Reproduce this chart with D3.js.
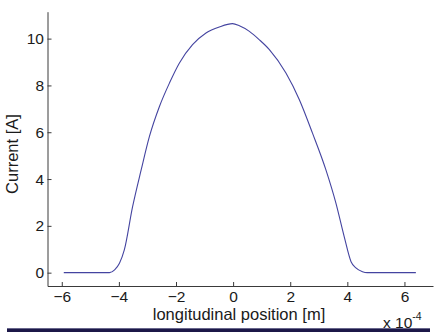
<!DOCTYPE html>
<html>
<head>
<meta charset="utf-8">
<script src="https://cdn.jsdelivr.net/npm/d3@7"></script>
<style>
  html, body { margin: 0; padding: 0; background: #fff; }
  svg { display: block; }
  text { font-family: "Liberation Sans", Arial, sans-serif; fill: #1a1a1a; }
</style>
</head>
<body>
<svg id="chart" width="434" height="332"></svg>
<script>
// Longitudinal position (units of 1e-4 m) and beam current [A]
const position = [-5.93, -4.8, -4.33, -4.15, -3.98, -3.81, -3.52, -3.22, -2.93, -2.58, -2.23, -1.88,
  -1.42, -0.95, -0.48, -0.02, 0.22, 0.57, 0.92, 1.27, 1.85, 2.32, 2.78, 3.25, 3.60, 3.89, 4.13,
  4.30, 4.53, 4.7, 5.5, 6.40];
const current = [0, 0, 0, 0.12, 0.40, 0.97, 2.82, 4.39, 5.82, 7.10, 8.10, 8.96,
  9.74, 10.24, 10.50, 10.64, 10.55, 10.31, 9.95, 9.53, 8.53, 7.39, 5.96, 4.39, 2.97, 1.54, 0.47,
  0.2, 0.04, 0, 0, 0];
const xTicks = [-6, -4, -2, 0, 2, 4, 6];
const yTicks = [0, 2, 4, 6, 8, 10];

const svg = d3.select("#chart");
const plotLeft = 47.5, plotRight = 433, plotTop = 11.7, plotBottom = 286;

const x = d3.scaleLinear().domain([-6.5, 7]).range([plotLeft, plotRight]);
const y = d3.scaleLinear().domain([-0.57, 11.15]).range([plotBottom, plotTop]);

const axisColor = "#3a3a3a";
const tickFont = 15.5, labelFont = 16.5;

// x axis (ticks point into the plot)
const gx = svg.append("g").attr("transform", `translate(0,${plotBottom})`)
  .call(d3.axisBottom(x).tickValues(xTicks).tickSizeInner(-4).tickSizeOuter(0)
    .tickFormat(d3.format("d")));
gx.select(".domain").attr("stroke", axisColor);
gx.selectAll(".tick line").attr("stroke", axisColor);
gx.selectAll(".tick text").attr("font-size", tickFont).attr("dy", "0.71em").attr("y", 5);

// y axis
const gy = svg.append("g").attr("transform", `translate(${plotLeft},0)`)
  .call(d3.axisLeft(y).tickValues(yTicks).tickSizeInner(-4).tickSizeOuter(0)
    .tickFormat(d3.format("d")));
gy.select(".domain").attr("stroke", axisColor);
gy.selectAll(".tick line").attr("stroke", axisColor);
gy.selectAll(".tick text").attr("font-size", tickFont).attr("x", -3.5);
svg.selectAll(".tick text").attr("font-family", "Liberation Sans, Arial, sans-serif").attr("fill", "#1a1a1a");

// current profile
const line = d3.line().x((d, i) => x(position[i])).y(d => y(d)).curve(d3.curveMonotoneX);
svg.append("path").datum(current)
  .attr("d", line).attr("fill", "none").attr("stroke", "#4444a0").attr("stroke-width", 1.1);

// axis labels
svg.append("text").attr("x", 239).attr("y", 320).attr("text-anchor", "middle")
  .attr("font-size", labelFont).text("longitudinal position [m]");
svg.append("text").attr("transform", "translate(18,154) rotate(-90)").attr("text-anchor", "middle")
  .attr("font-size", labelFont).text("Current [A]");

// axis multiplier
const mult = svg.append("text").attr("x", 383).attr("y", 328).attr("font-size", tickFont);
mult.append("tspan").text("x 10");
mult.append("tspan").attr("font-size", 10.5).attr("dy", -8.5).text("-4");

// footer rule
svg.append("rect").attr("x", 7).attr("y", 328.3).attr("width", 423).attr("height", 3.7).attr("fill", "#1c1848");
svg.append("rect").attr("x", 7).attr("y", 328).attr("width", 423).attr("height", 0.8).attr("fill", "#6b6a90");
</script>
</body>
</html>
